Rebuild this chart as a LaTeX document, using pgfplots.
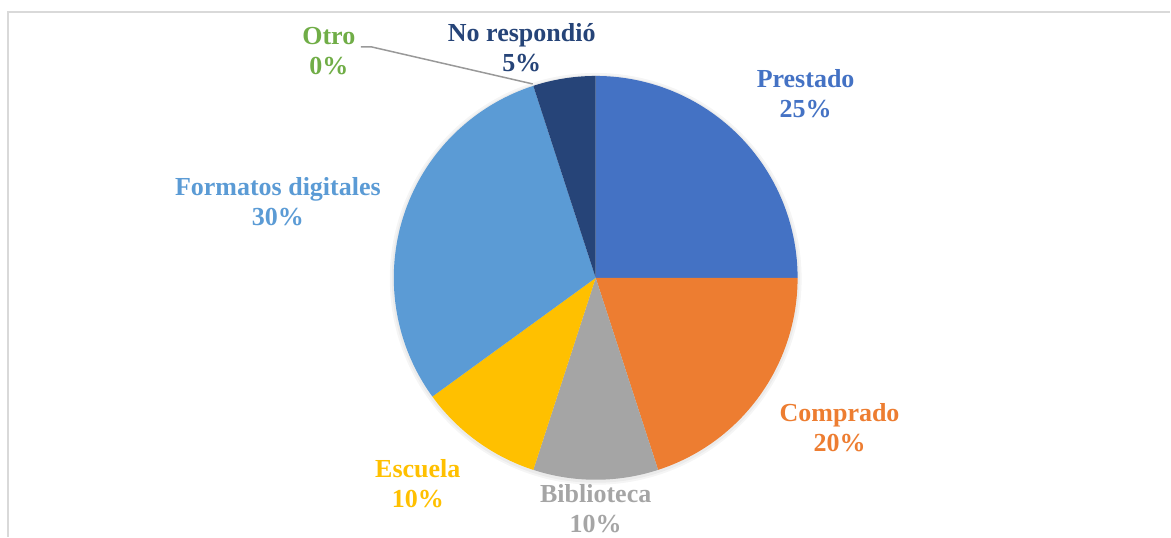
\documentclass[border=0pt]{standalone}
\usepackage{fontspec}
\setmainfont{Liberation Serif}
\usepackage{pgfplots}
\pgfplotsset{compat=1.18}

\definecolor{cPres}{HTML}{4472C4}
\definecolor{cComp}{HTML}{ED7D31}
\definecolor{cBibl}{HTML}{A5A5A5}
\definecolor{cEsc}{HTML}{FFC000}
\definecolor{cForm}{HTML}{5B9BD5}
\definecolor{cNoR}{HTML}{264478}
\definecolor{cOtro}{HTML}{70AD47}

% pie centre and radius, in axis units (1 unit = 1pt)
\def\cx{596}\def\cy{259}\def\rad{202}
% \slice{percent before}{percent}{colour}, clockwise from the top
\newcommand\slice[3]{%
  \fill[#3] (axis cs:\cx,\cy) -- ++({90-3.6*#1}:\rad pt)
    arc[start angle={90-3.6*#1}, end angle={90-3.6*(#1+#2)}, radius=\rad pt] -- cycle;}
% \lab{x}{baseline y}{colour}{name}{percent}
\newcommand\lab[5]{%
  \node[#3, anchor=base] at (axis cs:#1,#2) {#4};
  \node[#3, anchor=base] at (axis cs:#1,#2-30) {#5\%};}

\begin{document}
\begin{tikzpicture}[font=\fontsize{26}{30}\selectfont\bfseries]
\begin{axis}[
    x=1pt, y=1pt,
    xmin=0, xmax=1171, ymin=0, ymax=537,
    hide axis, clip=false, scale only axis,
]
\path (axis cs:0,0) (axis cs:1171,537);
% frame
\draw[black!15, line width=1.2pt] (axis cs:8,0) -- (axis cs:8,525) -- (axis cs:1171,525);
% soft shadow
\fill[black, opacity=0.04] (axis cs:\cx,\cy-1) circle[radius=206pt];
\fill[black, opacity=0.04] (axis cs:\cx,\cy-1) circle[radius=204pt];
% slices: Prestado 25, Comprado 20, Biblioteca 10, Escuela 10,
% Formatos digitales 30, No respondio 5, Otro 0
\slice{0}{25}{cPres}
\slice{25}{20}{cComp}
\slice{45}{10}{cBibl}
\slice{55}{10}{cEsc}
\slice{65}{30}{cForm}
\slice{95}{5}{cNoR}
% leader line for Otro
\draw[black!40, line width=1.5pt] (axis cs:361,490) -- (axis cs:372,490) -- (axis cs:533,453);
% labels
\lab{329}{492}{cOtro}{Otro}{0}
\lab{522}{495}{cNoR}{No respondió}{5}
\lab{806}{449}{cPres}{Prestado}{25}
\lab{278}{341}{cForm}{Formatos digitales}{30}
\lab{840}{115}{cComp}{Comprado}{20}
\lab{418}{59}{cEsc}{Escuela}{10}
\lab{596}{34}{cBibl}{Biblioteca}{10}
\end{axis}
\end{tikzpicture}
\end{document}
